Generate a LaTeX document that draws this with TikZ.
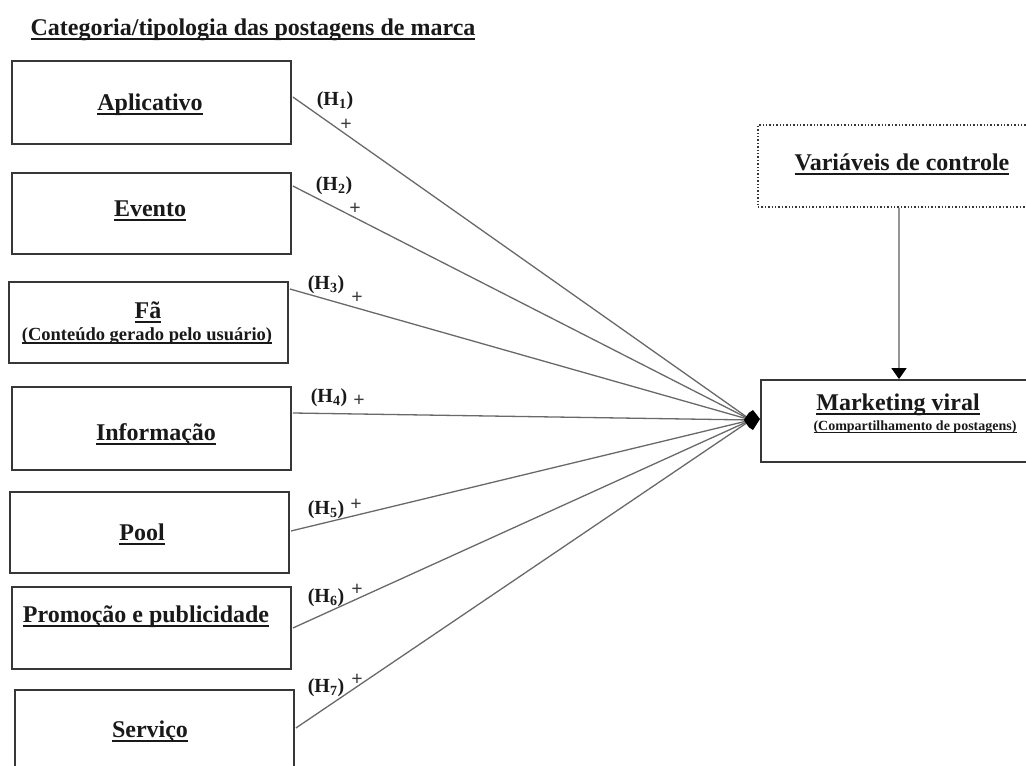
\documentclass[tikz,border=0pt]{standalone}
\usepackage{fontspec}
\setmainfont{Liberation Serif}
\usetikzlibrary{arrows.meta,calc}
\definecolor{linegray}{RGB}{105,105,105}
\definecolor{vgray}{RGB}{150,150,150}
\definecolor{boxgray}{RGB}{55,55,55}
\definecolor{txt}{RGB}{25,25,25}
\newcommand{\ulx}[1]{\setbox0\hbox{#1}\rlap{\rule[-0.2em]{\wd0}{0.075em}}\box0}
\begin{document}
\begin{tikzpicture}[x=1pt,y=-1pt,
  catbox/.style={draw=boxgray,line width=1.8pt,inner sep=0pt,minimum width=279pt},
  lbl/.style={font=\fontsize{24}{28}\selectfont\bfseries,text=txt,inner sep=0pt,anchor=base},
  sublbl/.style={font=\fontsize{18.5}{22}\selectfont\bfseries,text=txt,inner sep=0pt,anchor=base},
  smallsub/.style={font=\fontsize{14}{17}\selectfont\bfseries,text=txt,inner sep=0pt,anchor=base},
  hyp/.style={font=\fontsize{20}{24}\selectfont\bfseries,text=txt,inner sep=0pt},
  plus/.style={font=\fontsize{20}{22}\selectfont\bfseries,text=txt!85!white,inner sep=0pt},
  link/.style={draw=linegray,line width=1.3pt}]
\useasboundingbox (0,0) rectangle (1026,766);
\clip (0,0) rectangle (1026,766);
\fill[white] (0,0) rectangle (1026,766);

% title
\node[lbl] (title) at (253,35) {\ulx{Categoria/tipologia das postagens de marca}};

% category boxes
\node[catbox,minimum height=83pt] (b1) at (151.5,102.5) {};
\node[catbox,minimum height=81pt] (b2) at (151.5,213.5) {};
\node[catbox,minimum height=81pt] (b3) at (148.5,322.5) {};
\node[catbox,minimum height=83pt] (b4) at (151.5,428.5) {};
\node[catbox,minimum height=81pt] (b5) at (149.5,532.5) {};
\node[catbox,minimum height=82pt] (b6) at (151.5,628) {};
\node[catbox,minimum height=110pt] (b7) at (154.5,745) {};

\node[lbl] (t1) at (150,110) {\ulx{Aplicativo}};
\node[lbl] (t2) at (150,216) {\ulx{Evento}};
\node[lbl] (t3) at (148,318) {\ulx{Fã}};
\node[sublbl] (t3b) at (147,340) {\ulx{(Conteúdo gerado pelo usuário)}};
\node[lbl] (t4) at (156,440) {\ulx{Informação}};
\node[lbl] (t5) at (142,540) {\ulx{Pool}};
\node[lbl] (t6) at (146,622) {\ulx{Promoção e publicidade}};
\node[lbl] (t7) at (150,737) {\ulx{Serviço}};

% right side boxes
\node[draw=boxgray,line width=1.4pt,dotted,minimum width=302pt,minimum height=82pt,inner sep=0pt] (ctrl) at (909,166) {};
\node[lbl] (tc) at (902,170) {\ulx{Variáveis de controle}};
\node[draw=boxgray,line width=1.8pt,minimum width=309pt,minimum height=82pt,inner sep=0pt] (mv) at (915.5,421) {};
\node[lbl] (tm) at (898,410) {\ulx{Marketing viral}};
\node[smallsub] (tm2) at (915,430) {\ulx{(Compartilhamento de postagens)}};

% hub
\coordinate (hub) at (751,420);
\draw[link] ($(b1.east)+(1,-5.5)$) -- (hub);
\draw[link] ($(b2.east)+(1,-27.5)$) -- (hub);
\draw[link] ($(b3.east)+(1,-33.5)$) -- (hub);
\draw[link] ($(b4.east)+(1,-15.5)$) -- (hub);
\draw[link] ($(b5.east)+(1,-1.5)$) -- (hub);
\draw[link] ($(b6.east)+(1,0)$) -- (hub);
\draw[link] ($(b7.east)+(1,-17)$) -- (hub);
\fill[black] ($(hub)+(-7,0)$) .. controls ($(hub)+(-2,-8)$) .. ($(hub)+(2,-10)$)
  -- ($(hub)+(9,-1)$) -- ($(hub)+(2,10)$) .. controls ($(hub)+(-2,8)$) .. cycle;

% control arrow
\draw[draw=vgray,line width=1.4pt,-{Triangle[length=11pt,width=15pt,color=black,fill=black]}] (ctrl.south -| 899,0) -- (mv.north -| 899,0);

% hypothesis labels
\node[hyp] (h1) at (335,101) {(H$_{\mathbf{1}}$)};
\node[plus] (p1) at (346,125) {+};
\node[hyp] (h2) at (334,186) {(H$_{\mathbf{2}}$)};
\node[plus] (p2) at (355,209) {+};
\node[hyp] (h3) at (326,285) {(H$_{\mathbf{3}}$)};
\node[plus] (p3) at (357,298) {+};
\node[hyp] (h4) at (329,398) {(H$_{\mathbf{4}}$)};
\node[plus] (p4) at (359,401) {+};
\node[hyp] (h5) at (326,510) {(H$_{\mathbf{5}}$)};
\node[plus] (p5) at (356,505) {+};
\node[hyp] (h6) at (326,598) {(H$_{\mathbf{6}}$)};
\node[plus] (p6) at (357,590) {+};
\node[hyp] (h7) at (326,688) {(H$_{\mathbf{7}}$)};
\node[plus] (p7) at (357,680) {+};
\end{tikzpicture}
\end{document}
